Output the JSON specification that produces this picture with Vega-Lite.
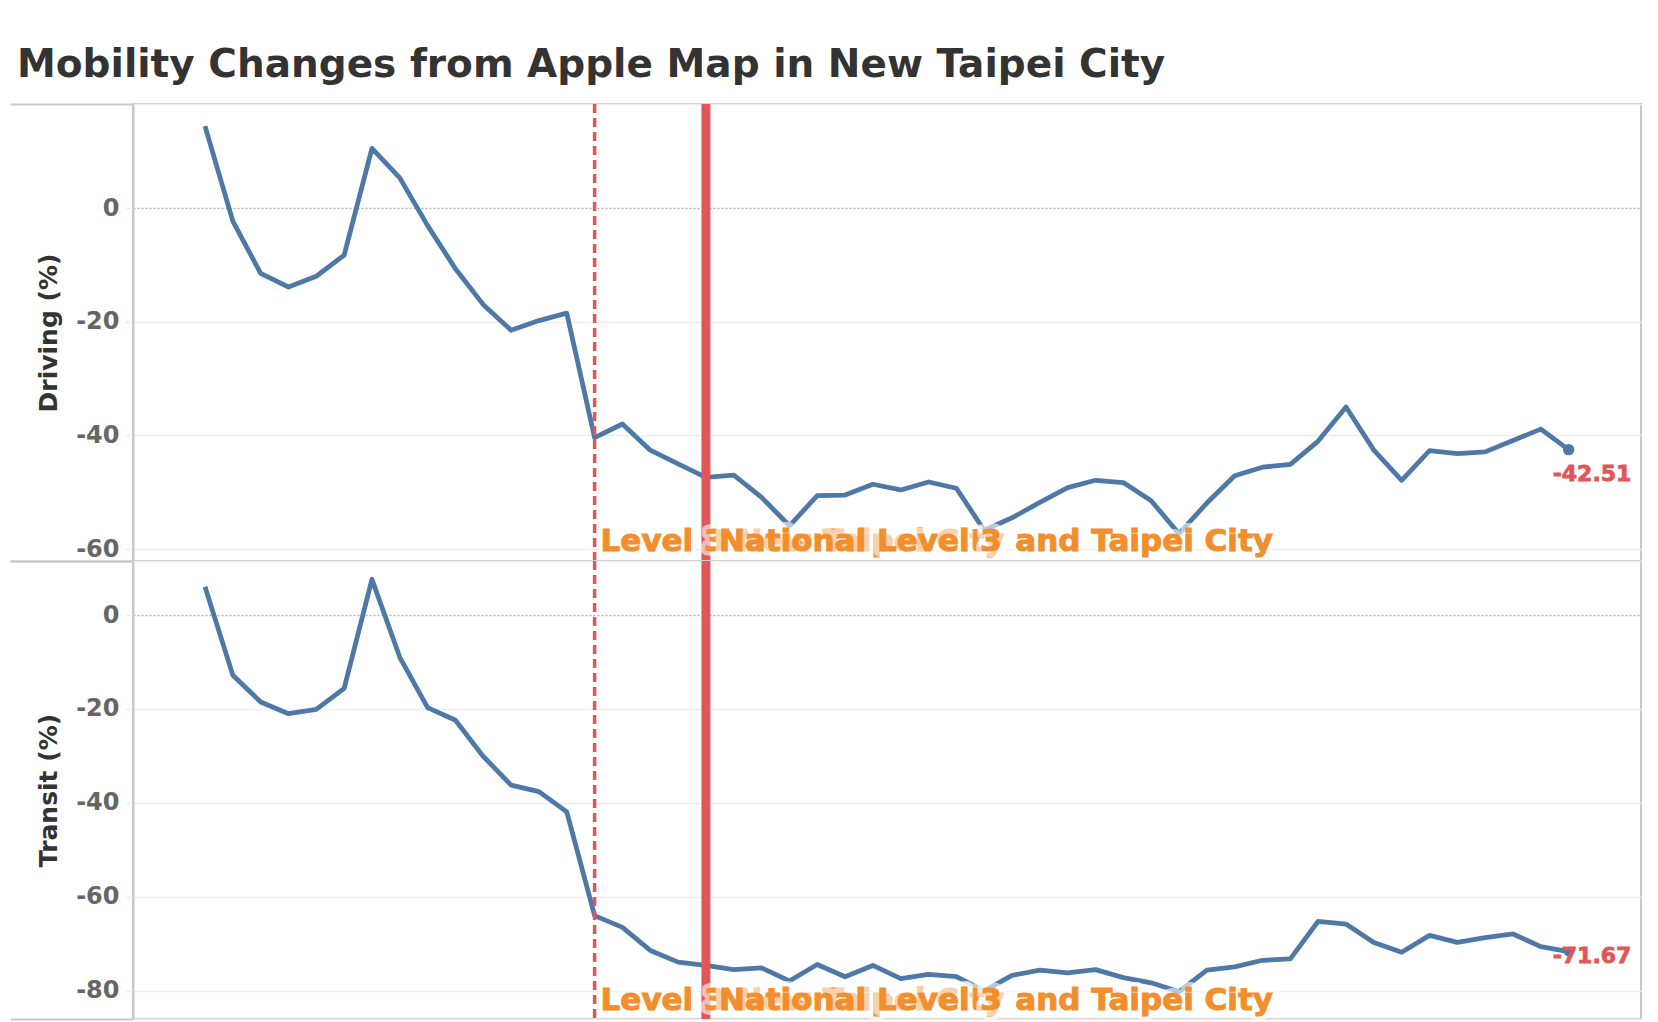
{
  "$schema": "https://vega.github.io/schema/vega-lite/v6.json",
  "background": "white",
  "padding": {"left": 8, "top": 45, "right": 5, "bottom": 0},
  "bounds": "flush",
  "title": {
    "text": "Mobility Changes from Apple Map in New Taipei City",
    "anchor": "start",
    "font": "DejaVu Sans",
    "fontSize": 39,
    "fontWeight": "bold",
    "color": "#333333",
    "dx": 9,
    "offset": 14
  },
  "datasets": {
    "mobility": [
      {"date": "2021-05-01", "driving": 14.4, "transit": 6.0},
      {"date": "2021-05-02", "driving": -2.3, "transit": -12.8},
      {"date": "2021-05-03", "driving": -11.5, "transit": -18.5},
      {"date": "2021-05-04", "driving": -13.9, "transit": -21.0},
      {"date": "2021-05-05", "driving": -12.0, "transit": -20.1},
      {"date": "2021-05-06", "driving": -8.3, "transit": -15.6},
      {"date": "2021-05-07", "driving": 10.5, "transit": 7.6},
      {"date": "2021-05-08", "driving": 5.3, "transit": -9.0},
      {"date": "2021-05-09", "driving": -3.1, "transit": -19.7},
      {"date": "2021-05-10", "driving": -10.7, "transit": -22.4},
      {"date": "2021-05-11", "driving": -17.0, "transit": -30.1},
      {"date": "2021-05-12", "driving": -21.5, "transit": -36.2},
      {"date": "2021-05-13", "driving": -19.8, "transit": -37.6},
      {"date": "2021-05-14", "driving": -18.5, "transit": -41.9},
      {"date": "2021-05-15", "driving": -40.4, "transit": -64.0},
      {"date": "2021-05-16", "driving": -38.0, "transit": -66.5},
      {"date": "2021-05-17", "driving": -42.6, "transit": -71.4},
      {"date": "2021-05-18", "driving": -45.0, "transit": -73.9},
      {"date": "2021-05-19", "driving": -47.4, "transit": -74.6},
      {"date": "2021-05-20", "driving": -47.0, "transit": -75.5},
      {"date": "2021-05-21", "driving": -50.9, "transit": -75.1},
      {"date": "2021-05-22", "driving": -55.9, "transit": -77.9},
      {"date": "2021-05-23", "driving": -50.6, "transit": -74.4},
      {"date": "2021-05-24", "driving": -50.5, "transit": -77.0},
      {"date": "2021-05-25", "driving": -48.6, "transit": -74.6},
      {"date": "2021-05-26", "driving": -49.6, "transit": -77.4},
      {"date": "2021-05-27", "driving": -48.2, "transit": -76.5},
      {"date": "2021-05-28", "driving": -49.3, "transit": -77.0},
      {"date": "2021-05-29", "driving": -56.7, "transit": -80.0},
      {"date": "2021-05-30", "driving": -54.5, "transit": -76.7},
      {"date": "2021-05-31", "driving": -51.8, "transit": -75.6},
      {"date": "2021-06-01", "driving": -49.2, "transit": -76.2},
      {"date": "2021-06-02", "driving": -47.9, "transit": -75.5},
      {"date": "2021-06-03", "driving": -48.3, "transit": -77.2},
      {"date": "2021-06-04", "driving": -51.5, "transit": -78.3},
      {"date": "2021-06-05", "driving": -57.3, "transit": -80.2},
      {"date": "2021-06-06", "driving": -51.9, "transit": -75.6},
      {"date": "2021-06-07", "driving": -47.1, "transit": -74.9},
      {"date": "2021-06-08", "driving": -45.6, "transit": -73.5},
      {"date": "2021-06-09", "driving": -45.1, "transit": -73.2},
      {"date": "2021-06-10", "driving": -41.0, "transit": -65.2},
      {"date": "2021-06-11", "driving": -35.0, "transit": -65.8},
      {"date": "2021-06-12", "driving": -42.6, "transit": -69.7},
      {"date": "2021-06-13", "driving": -47.9, "transit": -71.8},
      {"date": "2021-06-14", "driving": -42.7, "transit": -68.2},
      {"date": "2021-06-15", "driving": -43.2, "transit": -69.7},
      {"date": "2021-06-16", "driving": -42.9, "transit": -68.7},
      {"date": "2021-06-17", "driving": -40.9, "transit": -67.9},
      {"date": "2021-06-18", "driving": -38.9, "transit": -70.6},
      {"date": "2021-06-19", "driving": -42.51, "transit": -71.67}
    ],
    "events": [
      {"date": "2021-05-15", "label": "Level 3 New Taipei City and Taipei City", "kind": "local"},
      {"date": "2021-05-19", "label": "National Level 3", "kind": "national"}
    ]
  },
  "spacing": 0,
  "vconcat": [
    {
      "width": 1508,
      "height": 457,
      "layer": [
        {
          "data": {"name": "mobility"},
          "mark": {"type": "line", "color": "#4e79a7", "strokeWidth": 4.8, "strokeJoin": "round"},
          "encoding": {
            "x": {"field": "date", "type": "temporal", "axis": null,
                  "scale": {"type": "utc", "domain": [1619603683200, 1624285440000]}},
            "y": {"field": "driving", "type": "quantitative", "title": "Driving (%)",
                  "scale": {"domain": [-62.1, 18.3], "nice": false, "zero": false},
                  "axis": {"values": [-62.1, -60, -40, -20, 0, 18.3],
                           "labelExpr": "datum.value % 20 === 0 ? datum.label : ''",
                           "tickSize": {"condition": {"test": "datum.value % 20 !== 0", "value": 123}, "value": 8},
                           "tickColor": {"condition": {"test": "datum.value % 20 !== 0", "value": "#c8c8c8"}, "value": "#efefef"},
                           "tickWidth": {"condition": {"test": "datum.value % 20 !== 0", "value": 2}, "value": 1.5},
                           "gridColor": {"condition": {"test": "datum.value === 0", "value": "#b4b4b4"}, "value": "#efefef"},
                           "gridDash": {"condition": {"test": "datum.value === 0", "value": [2, 2]}, "value": []}}}
          }
        },
        {
          "data": {"name": "events"},
          "transform": [{"filter": "datum.kind === 'local'"}],
          "mark": {"type": "rule", "color": "#e15759", "strokeWidth": 3.5, "strokeDash": [9, 5]},
          "encoding": {"x": {"field": "date", "type": "temporal"}}
        },
        {
          "data": {"name": "events"},
          "transform": [{"filter": "datum.kind === 'national'"}],
          "mark": {"type": "rule", "color": "#e15759", "strokeWidth": 9},
          "encoding": {"x": {"field": "date", "type": "temporal"}}
        },
        {
          "data": {"name": "events"},
          "transform": [{"filter": "datum.kind === 'local'"}],
          "mark": {"type": "text", "align": "left", "baseline": "alphabetic", "dx": 6, "dy": -10,
                   "font": "DejaVu Sans", "fontSize": 31, "fontWeight": "bold",
                   "fill": "white", "stroke": "white", "strokeWidth": 10, "strokeJoin": "round", "opacity": 0.6},
          "encoding": {"x": {"field": "date", "type": "temporal"}, "y": {"value": "height"}, "text": {"field": "label"}}
        },
        {
          "data": {"name": "events"},
          "transform": [{"filter": "datum.kind === 'local'"}],
          "mark": {"type": "text", "align": "left", "baseline": "alphabetic", "dx": 6, "dy": -10,
                   "font": "DejaVu Sans", "fontSize": 31, "fontWeight": "bold",
                   "fill": "#f28e2b", "stroke": "#f28e2b", "strokeWidth": 1},
          "encoding": {"x": {"field": "date", "type": "temporal"}, "y": {"value": "height"}, "text": {"field": "label"}}
        },
        {
          "data": {"name": "events"},
          "transform": [{"filter": "datum.kind === 'national'"}],
          "mark": {"type": "text", "align": "left", "baseline": "alphabetic", "dx": 13, "dy": -10,
                   "font": "DejaVu Sans", "fontSize": 31, "fontWeight": "bold",
                   "fill": "white", "stroke": "white", "strokeWidth": 12, "strokeJoin": "round", "opacity": 0.6},
          "encoding": {"x": {"field": "date", "type": "temporal"}, "y": {"value": "height"}, "text": {"field": "label"}}
        },
        {
          "data": {"name": "events"},
          "transform": [{"filter": "datum.kind === 'national'"}],
          "mark": {"type": "text", "align": "left", "baseline": "alphabetic", "dx": 13, "dy": -10,
                   "font": "DejaVu Sans", "fontSize": 31, "fontWeight": "bold",
                   "fill": "#f28e2b", "stroke": "#f28e2b", "strokeWidth": 1},
          "encoding": {"x": {"field": "date", "type": "temporal"}, "y": {"value": "height"}, "text": {"field": "label"}}
        },
        {
          "data": {"name": "mobility"},
          "transform": [{"filter": "time(datum.date) === utc(2021, 5, 19)"}],
          "mark": {"type": "point", "filled": true, "opacity": 1, "size": 130, "color": "#4e79a7"},
          "encoding": {"x": {"field": "date", "type": "temporal"}, "y": {"field": "driving", "type": "quantitative"}}
        },
        {
          "data": {"name": "mobility"},
          "transform": [{"filter": "time(datum.date) === utc(2021, 5, 19)"}],
          "mark": {"type": "text", "align": "left", "baseline": "alphabetic", "dx": -16, "dy": 31,
                   "font": "DejaVu Sans", "fontSize": 22, "fontWeight": "bold",
                   "fill": "#e15759", "stroke": "#e15759", "strokeWidth": 0.8},
          "encoding": {"x": {"field": "date", "type": "temporal"}, "y": {"field": "driving", "type": "quantitative"},
                       "text": {"field": "driving", "type": "quantitative", "format": ".2f"}}
        }
      ]
    },
    {
      "width": 1508,
      "height": 458,
      "layer": [
        {
          "data": {"name": "mobility"},
          "mark": {"type": "line", "color": "#4e79a7", "strokeWidth": 4.8, "strokeJoin": "round"},
          "encoding": {
            "x": {"field": "date", "type": "temporal", "axis": null,
                  "scale": {"type": "utc", "domain": [1619603683200, 1624285440000]}},
            "y": {"field": "transit", "type": "quantitative", "title": "Transit (%)",
                  "scale": {"domain": [-86.0, 11.5], "nice": false, "zero": false},
                  "axis": {"values": [-86.0, -80, -60, -40, -20, 0, 11.5],
                           "labelExpr": "datum.value % 20 === 0 ? datum.label : ''",
                           "tickSize": {"condition": {"test": "datum.value % 20 !== 0", "value": 123}, "value": 8},
                           "tickColor": {"condition": {"test": "datum.value % 20 !== 0", "value": "#c8c8c8"}, "value": "#efefef"},
                           "tickWidth": {"condition": {"test": "datum.value % 20 !== 0", "value": 2}, "value": 1.5},
                           "gridColor": {"condition": {"test": "datum.value === 0", "value": "#b4b4b4"}, "value": "#efefef"},
                           "gridDash": {"condition": {"test": "datum.value === 0", "value": [2, 2]}, "value": []}}}
          }
        },
        {
          "data": {"name": "events"},
          "transform": [{"filter": "datum.kind === 'local'"}],
          "mark": {"type": "rule", "color": "#e15759", "strokeWidth": 3.5, "strokeDash": [9, 5]},
          "encoding": {"x": {"field": "date", "type": "temporal"}}
        },
        {
          "data": {"name": "events"},
          "transform": [{"filter": "datum.kind === 'national'"}],
          "mark": {"type": "rule", "color": "#e15759", "strokeWidth": 9},
          "encoding": {"x": {"field": "date", "type": "temporal"}}
        },
        {
          "data": {"name": "events"},
          "transform": [{"filter": "datum.kind === 'local'"}],
          "mark": {"type": "text", "align": "left", "baseline": "alphabetic", "dx": 6, "dy": -9,
                   "font": "DejaVu Sans", "fontSize": 31, "fontWeight": "bold",
                   "fill": "white", "stroke": "white", "strokeWidth": 10, "strokeJoin": "round", "opacity": 0.6},
          "encoding": {"x": {"field": "date", "type": "temporal"}, "y": {"value": "height"}, "text": {"field": "label"}}
        },
        {
          "data": {"name": "events"},
          "transform": [{"filter": "datum.kind === 'local'"}],
          "mark": {"type": "text", "align": "left", "baseline": "alphabetic", "dx": 6, "dy": -9,
                   "font": "DejaVu Sans", "fontSize": 31, "fontWeight": "bold",
                   "fill": "#f28e2b", "stroke": "#f28e2b", "strokeWidth": 1},
          "encoding": {"x": {"field": "date", "type": "temporal"}, "y": {"value": "height"}, "text": {"field": "label"}}
        },
        {
          "data": {"name": "events"},
          "transform": [{"filter": "datum.kind === 'national'"}],
          "mark": {"type": "text", "align": "left", "baseline": "alphabetic", "dx": 13, "dy": -9,
                   "font": "DejaVu Sans", "fontSize": 31, "fontWeight": "bold",
                   "fill": "white", "stroke": "white", "strokeWidth": 12, "strokeJoin": "round", "opacity": 0.6},
          "encoding": {"x": {"field": "date", "type": "temporal"}, "y": {"value": "height"}, "text": {"field": "label"}}
        },
        {
          "data": {"name": "events"},
          "transform": [{"filter": "datum.kind === 'national'"}],
          "mark": {"type": "text", "align": "left", "baseline": "alphabetic", "dx": 13, "dy": -9,
                   "font": "DejaVu Sans", "fontSize": 31, "fontWeight": "bold",
                   "fill": "#f28e2b", "stroke": "#f28e2b", "strokeWidth": 1},
          "encoding": {"x": {"field": "date", "type": "temporal"}, "y": {"value": "height"}, "text": {"field": "label"}}
        },
        {
          "data": {"name": "mobility"},
          "transform": [{"filter": "time(datum.date) === utc(2021, 5, 19)"}],
          "mark": {"type": "point", "filled": true, "opacity": 1, "size": 90, "color": "#4e79a7"},
          "encoding": {"x": {"field": "date", "type": "temporal"}, "y": {"field": "transit", "type": "quantitative"}}
        },
        {
          "data": {"name": "mobility"},
          "transform": [{"filter": "time(datum.date) === utc(2021, 5, 19)"}],
          "mark": {"type": "text", "align": "left", "baseline": "alphabetic", "dx": -16, "dy": 11,
                   "font": "DejaVu Sans", "fontSize": 22, "fontWeight": "bold",
                   "fill": "#e15759", "stroke": "#e15759", "strokeWidth": 0.8},
          "encoding": {"x": {"field": "date", "type": "temporal"}, "y": {"field": "transit", "type": "quantitative"},
                       "text": {"field": "transit", "type": "quantitative", "format": ".2f"}}
        }
      ]
    }
  ],
  "config": {
    "locale": {
      "number": {"decimal": ".", "thousands": ",", "grouping": [3], "currency": ["$", ""], "minus": "-"}
    },
    "view": {"stroke": "#c8c8c8", "strokeWidth": 2},
    "axisY": {
      "labelFont": "DejaVu Sans",
      "labelFontSize": 24,
      "labelFontWeight": "bold",
      "labelColor": "#666666",
      "labelPadding": 6,
      "titleFont": "DejaVu Sans",
      "titleFontSize": 25,
      "titleFontWeight": "bold",
      "titleColor": "#333333",
      "titleX": -72,
      "domainColor": "#c8c8c8",
      "domainWidth": 2,
      "gridWidth": 1.5
    }
  }
}
